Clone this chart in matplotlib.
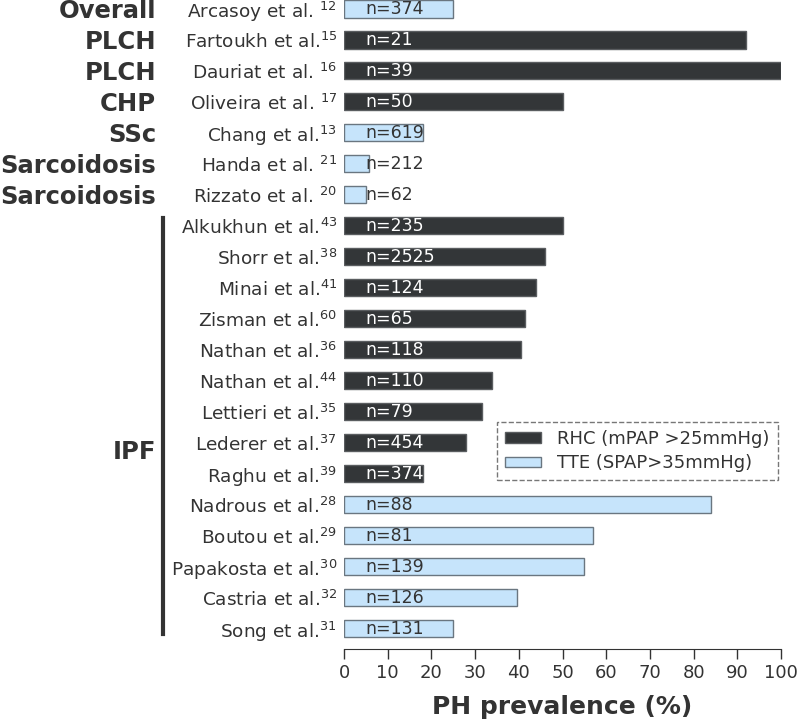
import matplotlib
matplotlib.use("Agg")
import matplotlib.pyplot as plt
from matplotlib.patches import Patch
from matplotlib.lines import Line2D
import matplotlib.transforms as mtransforms

# studies, top to bottom
authors = [
    "Arcasoy et al. $^{12}$", "Fartoukh et al.$^{15}$", "Dauriat et al. $^{16}$",
    "Oliveira et al. $^{17}$", "Chang et al.$^{13}$", "Handa et al. $^{21}$",
    "Rizzato et al. $^{20}$", "Alkukhun et al.$^{43}$", "Shorr et al.$^{38}$",
    "Minai et al.$^{41}$", "Zisman et al.$^{60}$", "Nathan et al.$^{36}$",
    "Nathan et al.$^{44}$", "Lettieri et al.$^{35}$", "Lederer et al.$^{37}$",
    "Raghu et al.$^{39}$", "Nadrous et al.$^{28}$", "Boutou et al.$^{29}$",
    "Papakosta et al.$^{30}$", "Castria et al.$^{32}$", "Song et al.$^{31}$",
]
prevalence = [25, 92, 100, 50, 18, 5.7, 5, 50, 46, 44, 41.4, 40.6, 33.8, 31.5,
              28, 18, 84, 57, 55, 39.6, 25]
n_labels = ["n=374", "n=21", "n=39", "n=50", "n=619", "n=212", "n=62",
            "n=235", "n=2525", "n=124", "n=65", "n=118", "n=110", "n=79",
            "n=454", "n=374", "n=88", "n=81", "n=139", "n=126", "n=131"]
method = ["TTE", "RHC", "RHC", "RHC", "TTE", "TTE", "TTE",
          "RHC", "RHC", "RHC", "RHC", "RHC", "RHC", "RHC", "RHC", "RHC",
          "TTE", "TTE", "TTE", "TTE", "TTE"]
groups = ["Overall", "PLCH", "PLCH", "CHP", "SSc", "Sarcoidosis", "Sarcoidosis"]
legend_labels = ["RHC (mPAP >25mmHg)", "TTE (SPAP>35mmHg)"]

DARK = "#333638"
LIGHT = "#c6e4fb"
TXT = "#333333"
colors = {"RHC": DARK, "TTE": LIGHT}
edges = {"RHC": "#5a5d60", "TTE": "#6a7680"}

fig = plt.figure(figsize=(7.97, 7.21), dpi=100)
W, H = 797, 721
ax = fig.add_axes([344 / W, 72 / H, 437 / W, 649 / H])

ypos = list(range(len(authors)))
ax.barh(ypos, prevalence, height=0.55,
        color=[colors[m] for m in method],
        edgecolor=[edges[m] for m in method], linewidth=1)

for y, v, lab, m in zip(ypos, prevalence, n_labels, method):
    ax.text(5, y, lab, va="center", ha="left", fontsize=12.5,
            color="white" if m == "RHC" else TXT)

ax.set_xlim(0, 100)
ax.set_ylim(20.65, -0.29)
ax.set_xticks(range(0, 101, 10))
ax.set_yticks(ypos)
ax.set_yticklabels(authors, fontsize=13.3, color=TXT)
ax.tick_params(axis="y", length=0, pad=5)
ax.tick_params(axis="x", labelsize=13, colors=TXT, length=7, width=1)
for s in ["left", "top", "right"]:
    ax.spines[s].set_visible(False)
ax.spines["bottom"].set_color(TXT)
ax.set_xlabel("PH prevalence (%)", fontsize=18, fontweight="bold",
              color=TXT, labelpad=10)

trans = mtransforms.blended_transform_factory(ax.transAxes, ax.transData)
gx = (156 - 344) / 437
for y, g in enumerate(groups):
    ax.text(gx, y + 0.07, g, ha="right", va="center", fontsize=17.5,
            fontweight="bold", color=TXT, transform=trans)
ax.text(gx, 14.3, "IPF", ha="right", va="center", fontsize=17.5,
        fontweight="bold", color=TXT, transform=trans)
lx = (163 - 344) / 437
ax.add_line(Line2D([lx, lx], [6.74, 20.16], color=TXT, lw=3,
                   transform=trans, clip_on=False))

handles = [Patch(facecolor=DARK, edgecolor=edges["RHC"]),
           Patch(facecolor=LIGHT, edgecolor=edges["TTE"])]
leg = ax.legend(handles, legend_labels, loc="upper right",
                bbox_to_anchor=(0.993, 0.35), borderaxespad=0,
                fontsize=13, fancybox=False, frameon=True,
                borderpad=0.45, labelspacing=0.35, handlelength=2.0,
                handleheight=0.5, handletextpad=0.9)
for t in leg.get_texts():
    t.set_color(TXT)
leg.get_frame().set_linestyle("--")
leg.get_frame().set_edgecolor("#555555")

fig.savefig("out.png", dpi=100)
